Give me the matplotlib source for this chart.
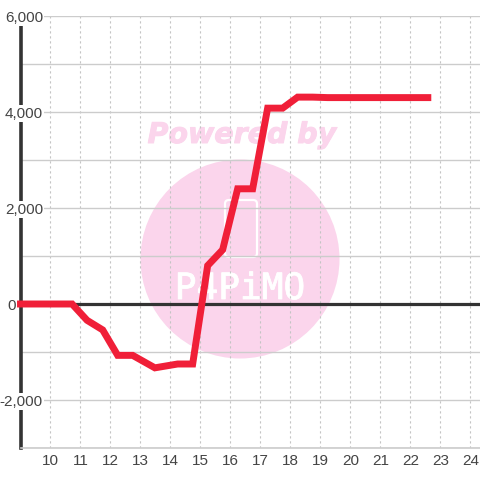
import matplotlib
matplotlib.use('Agg')
import matplotlib.pyplot as plt
import matplotlib.patheffects as pe
from matplotlib.patches import Circle, FancyBboxPatch

x_vals = [9, 10.72, 11.22, 11.74, 12.24, 12.74, 13.48, 14.24, 14.74, 15.24, 15.74, 16.24, 16.74,
          17.24, 17.74, 18.24, 18.74, 19.24, 22.58]
y_vals = [0, 0, -340, -540, -1070, -1070, -1330, -1250, -1250, 800, 1130, 2400, 2400,
          4080, 4080, 4310, 4310, 4300, 4300]
x_ticks = list(range(10, 25))
y_major = [6000, 4000, 2000, 0, -2000]
y_minor = [5000, 3000, 1000, -1000, -3000]
y_label_right = [43, 43, 43, 16, 43]  # px, the labels are not aligned in the original


def px(x, y):
    # figure fraction from image pixels
    return x / 480, 1 - y / 480


plt.rcParams['font.family'] = ['Liberation Sans', 'DejaVu Sans']

fig = plt.figure(figsize=(4.8, 4.8), dpi=100)
ax = fig.add_axes([20.5 / 480, 1 - 448 / 480, (480 - 20.5) / 480, 432 / 480])
ax.set_xlim(9, 24.32)
ax.set_ylim(-3000, 6000)
for s in ax.spines.values():
    s.set_visible(False)
ax.patch.set_alpha(0)

# watermark sits under the axes
pink = '#fbd5ec'
fig.add_artist(Circle(px(240, 259), 99.5 / 480, transform=fig.transFigure, color=pink, lw=0, zorder=-5))
fig.text(*px(242, 135), 'Powered by', color=pink, fontsize=20.5, fontweight='bold', style='italic',
         family='DejaVu Sans', ha='center', va='center', zorder=-4,
         path_effects=[pe.withStroke(linewidth=0.7, foreground=pink)])
fig.add_artist(FancyBboxPatch(px(225, 257), 32 / 480, 57 / 480, boxstyle='round,pad=0,rounding_size=0.008',
                              transform=fig.transFigure, fc='none', ec='white', lw=1.6, zorder=-4))
fig.text(*px(240, 289), 'P4PiMO', color='white', fontsize=26, family='DejaVu Sans Mono',
         ha='center', va='center', zorder=-4,
         path_effects=[pe.withStroke(linewidth=0.6, foreground='white')])

ax.set_xticks(x_ticks)
ax.set_yticks(y_major + y_minor)
ax.grid(axis='x', color='#c4c4c4', lw=0.8, ls=(0, (2, 2.5)), zorder=1)
ax.grid(axis='y', color='#cccccc', lw=1, zorder=1)
ax.tick_params(length=0, labelleft=False, labelsize=11, labelcolor='#444444', pad=4)
ax.set_xticklabels([str(t) for t in x_ticks])

ax.axvline(9, color='#333333', lw=2.6, zorder=2, clip_on=False)
ax.axhline(0, color='#333333', lw=2.3, zorder=2)
ax.axhline(-3000, color='#cccccc', lw=1.2, zorder=2, clip_on=False)

ax.plot(x_vals, y_vals, color='#f01f38', lw=5, solid_joinstyle='miter', solid_capstyle='projecting',
        zorder=3, clip_on=False)

for v, right in zip(y_major, y_label_right):
    fig.text(right / 480, 1 - (305.5 - v * 0.048) / 480, f'{v:,}', color='#444444', fontsize=11,
             ha='right', va='center', zorder=6,
             bbox=dict(fc='white', ec='none', pad=1))

fig.savefig('out.png', dpi=100)
